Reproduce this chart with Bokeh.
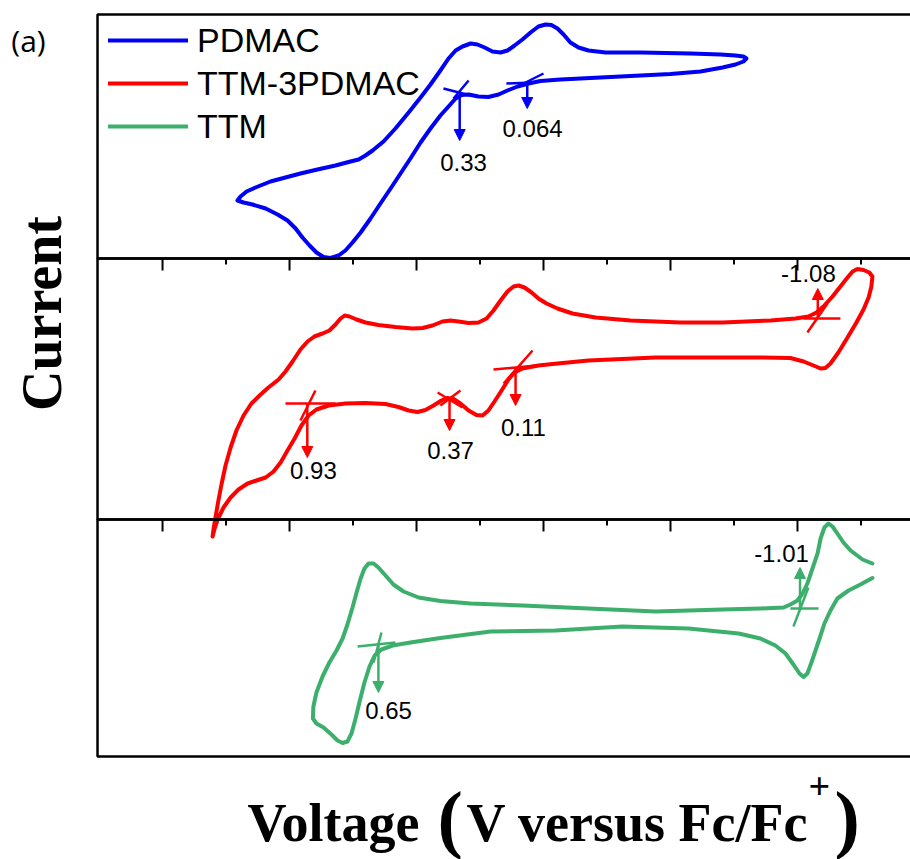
import numpy as np
from bokeh.plotting import figure
from bokeh.models import (Range1d, Label, Legend, LegendItem, Arrow, NormalHead,
                          ColumnDataSource, BoxAnnotation)
from bokeh.core.properties import value
from bokeh.embed import file_html
from bokeh.resources import INLINE

# ---------------- data (V vs Fc/Fc+, current in a.u. above each panel's floor) -------------
blue_v = [1.205, 1.193, 1.169, 1.134, 1.075, 1.016, 0.957, 0.890, 0.819, 0.760,
          0.728, 0.701, 0.673, 0.630, 0.583, 0.531, 0.484, 0.445, 0.406, 0.374,
          0.346, 0.319, 0.287, 0.260, 0.232, 0.201, 0.169, 0.142, 0.114, 0.083,
          0.051, 0.020, -0.008, -0.031, -0.055, -0.079, -0.106, -0.138, -0.177, -0.244,
          -0.382, -0.579, -0.697, -0.756, -0.787, -0.799,
          -0.787, -0.756, -0.705, -0.618, -0.500, -0.382, -0.224, -0.067, 0.012, 0.059,
          0.102, 0.142, 0.177, 0.217, 0.256, 0.295, 0.323, 0.346, 0.374, 0.406,
          0.445, 0.484, 0.524, 0.563, 0.602, 0.642, 0.681, 0.720, 0.752, 0.780,
          0.807, 0.839, 0.866, 0.894, 0.921, 0.949, 0.976, 1.008, 1.047, 1.094,
          1.146, 1.181, 1.205]
blue_i = [0.58, 0.62, 0.67, 0.71, 0.77, 0.81, 0.85, 0.89, 0.93, 0.97,
          0.99, 1.03, 1.08, 1.17, 1.30, 1.46, 1.61, 1.74, 1.88, 2.00,
          2.08, 2.12, 2.15, 2.14, 2.11, 2.07, 2.06, 2.08, 2.13, 2.19,
          2.26, 2.32, 2.34, 2.335, 2.30, 2.24, 2.16, 2.11, 2.08, 2.06,
          2.06, 2.05, 2.04, 2.03, 2.02, 2.00,
          1.97, 1.94, 1.91, 1.87, 1.845, 1.83, 1.81, 1.79, 1.775, 1.75,
          1.72, 1.68, 1.64, 1.615, 1.62, 1.64, 1.635, 1.60, 1.52, 1.43,
          1.30, 1.16, 1.00, 0.85, 0.70, 0.55, 0.40, 0.26, 0.16, 0.08,
          0.03, 0.005, 0.015, 0.06, 0.13, 0.21, 0.30, 0.38, 0.44, 0.50,
          0.54, 0.56, 0.58]

red_v = [1.303, 1.299, 1.291, 1.280, 1.268, 1.252, 1.232, 1.209, 1.181, 1.150,
         1.118, 1.083, 1.043, 1.016, 0.988, 0.957, 0.929, 0.902, 0.870, 0.843,
         0.819, 0.799, 0.783, 0.764, 0.736, 0.701, 0.650, 0.583, 0.516, 0.476,
         0.437, 0.398, 0.366, 0.335, 0.295, 0.256, 0.224, 0.197, 0.169, 0.142,
         0.118, 0.098, 0.075, 0.047, 0.020, -0.012, -0.055, -0.114, -0.205, -0.343,
         -0.539, -0.705, -0.894, -0.992, -1.043, -1.075, -1.102, -1.138, -1.169, -1.197,
         -1.217, -1.236, -1.260, -1.283, -1.295, -1.291, -1.280, -1.260, -1.232, -1.197,
         -1.161, -1.130, -1.110, -1.091,
         -1.063, -1.024, -0.972, -0.854, -0.705, -0.441, -0.177, -0.055, 0.020, 0.083,
         0.114, 0.138, 0.165, 0.193, 0.217, 0.240, 0.264, 0.295, 0.327, 0.354,
         0.378, 0.402, 0.433, 0.465, 0.496, 0.531, 0.571, 0.622, 0.701, 0.780,
         0.846, 0.894, 0.925, 0.953, 0.980, 1.008, 1.035, 1.063, 1.094, 1.130,
         1.165, 1.201, 1.232, 1.260, 1.283, 1.295, 1.303]
red_i = [-0.17, -0.09, 0.03, 0.19, 0.35, 0.54, 0.72, 0.89, 1.04, 1.16,
         1.24, 1.32, 1.40, 1.48, 1.58, 1.70, 1.78, 1.83, 1.86, 1.89,
         1.95, 2.01, 2.04, 2.03, 2.00, 1.97, 1.945, 1.925, 1.91, 1.915,
         1.94, 1.98, 1.99, 1.98, 1.965, 1.97, 2.01, 2.09, 2.19, 2.28,
         2.33, 2.34, 2.32, 2.27, 2.21, 2.16, 2.11, 2.06, 2.02, 1.99,
         1.97, 1.97, 1.99, 2.01, 2.03, 2.07, 2.13, 2.23, 2.33, 2.42,
         2.48, 2.505, 2.495, 2.47, 2.43, 2.33, 2.22, 2.10, 1.97, 1.82,
         1.67, 1.56, 1.515, 1.51,
         1.54, 1.58, 1.615, 1.62, 1.62, 1.62, 1.59, 1.56, 1.54, 1.51,
         1.47, 1.40, 1.29, 1.18, 1.09, 1.04, 1.045, 1.09, 1.16, 1.205,
         1.215, 1.19, 1.14, 1.095, 1.075, 1.09, 1.125, 1.155, 1.165, 1.16,
         1.14, 1.10, 1.04, 0.94, 0.81, 0.69, 0.57, 0.48, 0.42, 0.39,
         0.36, 0.30, 0.22, 0.12, 0.00, -0.09, -0.17]

green_v = [-1.295, -1.256, -1.209, -1.181, -1.157, -1.138, -1.122, -1.106, -1.091, -1.079,
           -1.059, -1.039, -1.020, -1.000, -0.972, -0.945, -0.854, -0.705, -0.441, -0.177,
           0.083, 0.287, 0.406, 0.492, 0.551, 0.591, 0.622, 0.650, 0.669, 0.689,
           0.705, 0.720, 0.736, 0.752, 0.772, 0.791, 0.815, 0.843, 0.870, 0.894,
           0.906, 0.908, 0.894, 0.866, 0.835, 0.811, 0.791, 0.772, 0.756, 0.740,
           0.724, 0.705, 0.685, 0.665, 0.638, 0.594, 0.524, 0.406, 0.209, -0.047,
           -0.311, -0.571, -0.768, -0.854, -0.913, -0.953, -0.984, -1.008, -1.024, -1.039,
           -1.055, -1.071, -1.087, -1.106, -1.130, -1.157, -1.201, -1.248, -1.295]
green_i = [1.93, 1.97, 2.06, 2.14, 2.23, 2.30, 2.33, 2.29, 2.18, 2.03,
           1.88, 1.73, 1.63, 1.56, 1.52, 1.49, 1.48, 1.47, 1.45, 1.48,
           1.51, 1.53, 1.555, 1.59, 1.65, 1.72, 1.81, 1.89, 1.93, 1.93,
           1.88, 1.78, 1.64, 1.49, 1.32, 1.18, 1.06, 0.94, 0.80, 0.64,
           0.50, 0.38, 0.33, 0.29, 0.22, 0.16, 0.135, 0.15, 0.23, 0.38,
           0.55, 0.74, 0.90, 1.01, 1.07, 1.11, 1.14, 1.185, 1.25, 1.26,
           1.30, 1.28, 1.23, 1.18, 1.11, 1.03, 0.92, 0.83, 0.795, 0.83,
           0.94, 1.06, 1.18, 1.33, 1.46, 1.58, 1.66, 1.72, 1.785]

series_names = ["PDMAC", "TTM-3PDMAC", "TTM"]
series_colors = ["#0000F5", "#FF0000", "#3CAF6C"]
panel_floor = [4.98, 2.37, 0.0]          # bottom of each stacked panel (a.u.)
panel_ceiling = [7.42, 4.98, 2.37]       # top of each stacked panel (a.u.)
v_left_edge, v_right_edge = 1.756, -1.50

# onset potentials marked with arrows
blue_onset = [0.33, 0.064]
blue_arrow_i0 = [1.63, 1.75]
blue_arrow_i1 = [1.18, 1.50]
blue_label_v = [0.315, 0.043]
blue_label_i = [0.96, 1.30]
blue_labels = ["0.33", "0.064"]

red_onset = [0.93, 0.37, 0.11, -1.08]
red_arrow_i0 = [1.16, 1.22, 1.52, 2.02]
red_arrow_i1 = [0.62, 0.89, 1.14, 2.31]
red_label_v = [0.906, 0.366, 0.079, -1.043]
red_label_i = [0.49, 0.69, 0.92, 2.46]
red_labels = ["0.93", "0.37", "0.11", "-1.08"]

green_onset = [0.65, -1.01]
green_arrow_i0 = [1.13, 1.46]
green_arrow_i1 = [0.64, 1.89]
green_label_v = [0.610, -0.937]
green_label_i = [0.46, 2.03]
green_labels = ["0.65", "-1.01"]

# tangent construction lines
blue_tan = dict(v0=[0.394, 0.354, 0.146, 0.110], i0=[1.70, 1.60, 1.75, 1.71],
                v1=[0.287, 0.295, 0.043, 0.000], i1=[1.63, 1.78, 1.76, 1.85])
red_tan = dict(v0=[1.016, 0.957, 0.417, 0.406, 0.197, 0.157, -1.024, -1.039],
               i0=[1.16, 0.99, 1.27, 1.14, 1.50, 1.36, 2.01, 1.87],
               v1=[0.819, 0.898, 0.319, 0.327, -0.055, 0.043, -1.169, -1.118],
               i1=[1.16, 1.29, 1.12, 1.29, 1.56, 1.69, 2.01, 2.16])
green_tan = dict(v0=[0.732, 0.669, -0.972, -0.984], i0=[1.10, 0.94, 1.48, 1.30],
                 v1=[0.583, 0.638, -1.083, -1.043], i1=[1.14, 1.24, 1.48, 1.69])

major_ticks = [1.5, 1.0, 0.5, 0.0, -0.5, -1.0]
minor_ticks = [1.25, 0.75, 0.25, -0.25, -0.75, -1.25]

# ---------------- figure (frame covers the whole canvas) ----------------
W, H = 910, 859
p = figure(width=W, height=H, output_backend="svg", toolbar_location=None,
           x_range=Range1d(2.138, -1.445), y_range=Range1d(-1.03, 7.56),
           x_axis_type=None, y_axis_type=None,
           min_border_left=0, min_border_right=0, min_border_top=0, min_border_bottom=0)
p.outline_line_color = None
p.grid.visible = False

for lo, hi in zip(panel_floor, panel_ceiling):
    p.add_layout(BoxAnnotation(left=v_left_edge, right=v_right_edge, bottom=lo, top=hi,
                               fill_color=None, fill_alpha=0, line_color="black",
                               line_alpha=1.0, line_width=2.5))

for lvl in panel_floor[:2]:
    p.segment(x0=major_ticks, y0=[lvl] * len(major_ticks), x1=major_ticks,
              y1=[lvl - 0.12] * len(major_ticks), line_color="black", line_width=2)
    p.segment(x0=minor_ticks, y0=[lvl] * len(minor_ticks), x1=minor_ticks,
              y1=[lvl - 0.06] * len(minor_ticks), line_color="black", line_width=2)

curves = [(blue_v, blue_i), (red_v, red_i), (green_v, green_i)]
tans = [blue_tan, red_tan, green_tan]
arrows = [(blue_onset, blue_arrow_i0, blue_arrow_i1),
          (red_onset, red_arrow_i0, red_arrow_i1),
          (green_onset, green_arrow_i0, green_arrow_i1)]
labels = [(blue_label_v, blue_label_i, blue_labels),
          (red_label_v, red_label_i, red_labels),
          (green_label_v, green_label_i, green_labels)]

renderers = []
for k in range(3):
    c = series_colors[k]
    base = panel_floor[k]
    v, i = curves[k]
    r = p.line(v, np.array(i) + base, line_color=c, line_width=4,
               line_join="round", line_cap="round")
    renderers.append(r)
    t = tans[k]
    p.segment(x0=t["v0"], y0=np.array(t["i0"]) + base, x1=t["v1"], y1=np.array(t["i1"]) + base,
              line_color=c, line_width=2.5)
    ons, a0, a1 = arrows[k]
    src = ColumnDataSource(dict(x=ons, y0=np.array(a0) + base, y1=np.array(a1) + base))
    p.add_layout(Arrow(end=NormalHead(size=11, fill_color=c, line_color=c, line_width=1),
                       x_start="x", y_start="y0", x_end="x", y_end="y1", source=src,
                       line_color=c, line_width=2.5))
    lv, li, lt = labels[k]
    p.text(x=lv, y=np.array(li) + base, text=lt, text_align="center", text_baseline="middle",
           text_font=value("Liberation Sans"), text_font_size="24px", text_color="black")

legend = Legend(items=[LegendItem(label=series_names[k], renderers=[renderers[k]]) for k in range(3)],
                location=(108, 713), margin=0, padding=6, glyph_width=80, glyph_height=40,
                label_height=40, spacing=3, label_standoff=9,
                label_text_font="Liberation Sans", label_text_font_size="34px",
                label_text_color="black", border_line_color=None, background_fill_alpha=0)
p.add_layout(legend)

# titles (screen units from the canvas bottom-left; anchors at the text's vertical middle)
serif = "Liberation Serif"
p.add_layout(Label(x=28, y=819, x_units="screen", y_units="screen", text="(a)",
                   text_font="Open Sans", text_font_size="30px", text_align="center",
                   text_baseline="middle", text_color="black"))
p.add_layout(Label(x=41, y=546, x_units="screen", y_units="screen", text="Current",
                   angle=np.pi / 2, text_font=serif, text_font_style="bold",
                   text_font_size="56px", text_align="center", text_baseline="middle",
                   text_color="black"))
for txt, x, y, fs in [("Voltage", 247, 37, "54px"), ("(", 437, 42, "76px"),
                      ("V versus Fc/Fc", 466, 37, "54px"), ("+", 808, 73, "38px"),
                      (")", 834, 42, "76px")]:
    p.add_layout(Label(x=x, y=y, x_units="screen", y_units="screen", text=txt,
                       text_font=serif, text_font_style="bold", text_font_size=fs,
                       text_align="left", text_baseline="middle", text_color="black"))

open("out.html", "w").write(file_html(p, INLINE))
